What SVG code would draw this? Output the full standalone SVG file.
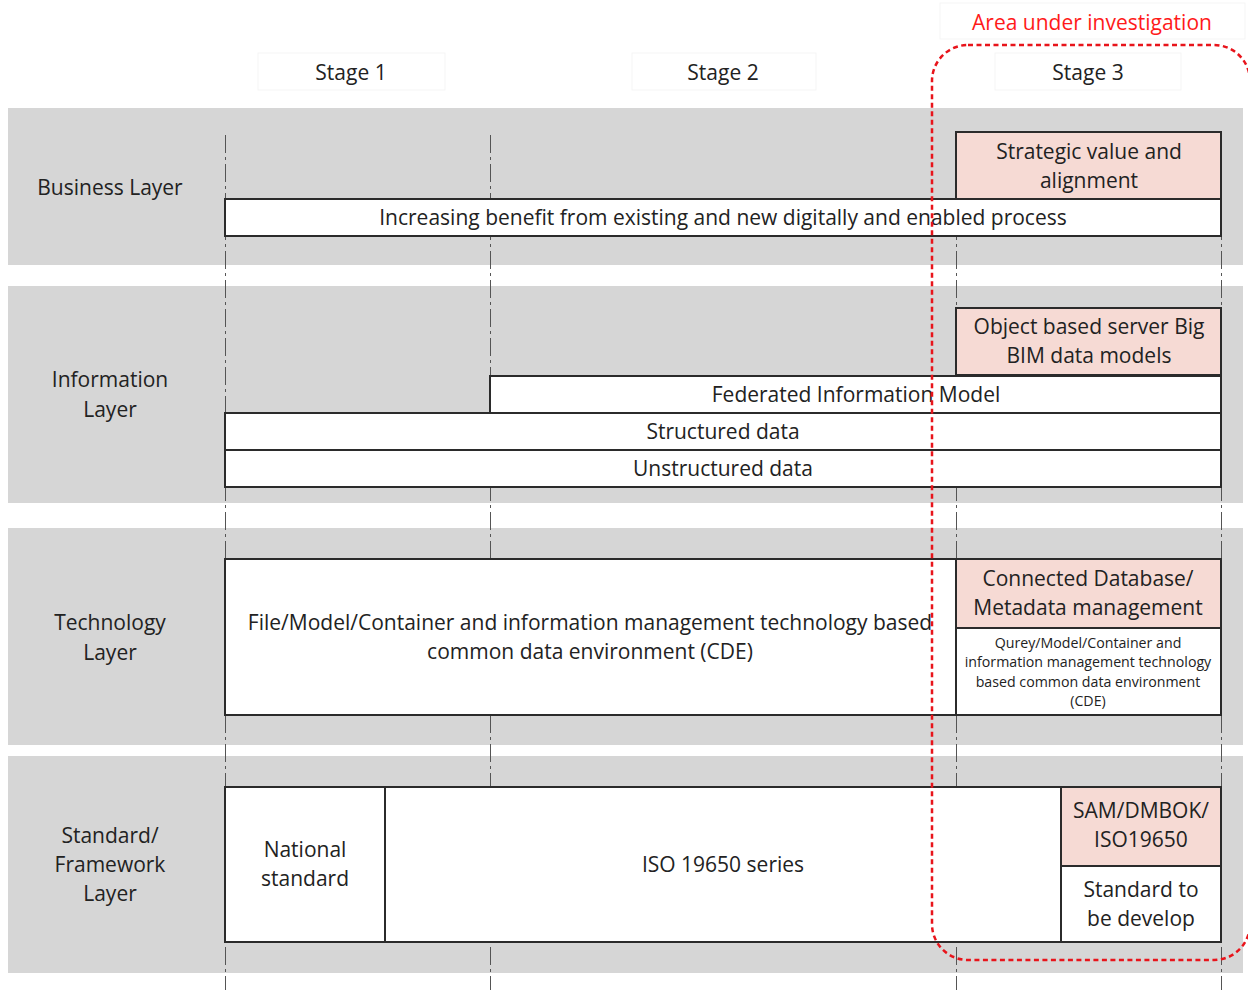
<svg xmlns="http://www.w3.org/2000/svg" width="1248" height="990" viewBox="0 0 1248 990">
  <defs>
    <style>
      .band { fill: #d6d6d6; }
      .guide { stroke: #555; stroke-width: 1; stroke-dasharray: 18 4 3 4; fill: none; }
      .box { fill: #ffffff; stroke: #2b2b2b; stroke-width: 2; }
      .hot { fill: #f6dad4; stroke: #2b2b2b; stroke-width: 2; }
      .head { fill: #ffffff; stroke: #f5f5f5; stroke-width: 1; }
      text { font-family: "Open Sans", "Liberation Sans", sans-serif; fill: #222; text-anchor: middle; }
      .t { font-size: 21px; }
      .s { font-size: 14.2px; }
      .red { fill: #ff1a1a; font-size: 21px; }
      .zone { fill: none; stroke: #e8141b; stroke-width: 2.5; stroke-dasharray: 5 3.5; }
    </style>
  </defs>

  <rect width="1248" height="990" fill="#ffffff"/>

  <!-- layer bands -->
  <g id="bands">
    <rect class="band" x="8" y="108" width="1235" height="157"/>
    <rect class="band" x="8" y="286" width="1235" height="217"/>
    <rect class="band" x="8" y="528" width="1235" height="217"/>
    <rect class="band" x="8" y="756" width="1235" height="217"/>
  </g>

  <!-- stage headers -->
  <g id="stage-1">
    <rect class="head" x="258" y="53" width="187" height="37"/>
    <text class="t" x="351" y="79.5">Stage 1</text>
  </g>
  <g id="stage-2">
    <rect class="head" x="632" y="53" width="184" height="37"/>
    <text class="t" x="723" y="79.5">Stage 2</text>
  </g>
  <g id="stage-3">
    <rect class="head" x="995" y="53" width="186" height="37"/>
    <text class="t" x="1088" y="79.5">Stage 3</text>
  </g>
  <g id="area-label">
    <rect class="head" x="940" y="3" width="305" height="36"/>
    <text class="red" x="1092" y="29.5">Area under investigation</text>
  </g>

  <!-- stage boundaries -->
  <g id="connectors">
    <line class="guide" x1="225.5" y1="135" x2="225.5" y2="990"/>
    <line class="guide" x1="490.5" y1="135" x2="490.5" y2="990"/>
    <line class="guide" x1="956.5" y1="135" x2="956.5" y2="990"/>
    <line class="guide" x1="1221.5" y1="135" x2="1221.5" y2="990"/>
  </g>

  <!-- layer names -->
  <g id="layer-business"><text class="t" x="110" y="194.5">Business Layer</text></g>
  <g id="layer-information">
    <text class="t" x="110" y="387">Information</text>
    <text class="t" x="110" y="417">Layer</text>
  </g>
  <g id="layer-technology">
    <text class="t" x="110" y="630">Technology</text>
    <text class="t" x="110" y="660">Layer</text>
  </g>
  <g id="layer-standard">
    <text class="t" x="110" y="843">Standard/</text>
    <text class="t" x="110" y="872">Framework</text>
    <text class="t" x="110" y="901">Layer</text>
  </g>

  <!-- business layer -->
  <g id="strategic-value">
    <rect class="hot" x="956" y="132" width="265" height="67"/>
    <text class="t" x="1089" y="158.5">Strategic value and</text>
    <text class="t" x="1089" y="187.5">alignment</text>
  </g>
  <g id="increasing-benefit">
    <rect class="box" x="225" y="199" width="996" height="37"/>
    <text class="t" x="723" y="225">Increasing benefit from existing and new digitally and enabled process</text>
  </g>

  <!-- information layer -->
  <g id="object-based">
    <rect class="hot" x="956" y="308" width="265" height="67"/>
    <text class="t" x="1089" y="334">Object based server Big</text>
    <text class="t" x="1089" y="363">BIM data models</text>
  </g>
  <g id="federated-model">
    <rect class="box" x="490" y="376" width="731" height="37"/>
    <text class="t" x="856" y="401.5">Federated Information Model</text>
  </g>
  <g id="structured-data">
    <rect class="box" x="225" y="413" width="996" height="37"/>
    <text class="t" x="723" y="439">Structured data</text>
  </g>
  <g id="unstructured-data">
    <rect class="box" x="225" y="450" width="996" height="37"/>
    <text class="t" x="723" y="476">Unstructured data</text>
  </g>

  <!-- technology layer -->
  <g id="file-model-cde">
    <rect class="box" x="225" y="559" width="731" height="156"/>
    <text class="t" x="590" y="630">File/Model/Container and information management technology based</text>
    <text class="t" x="590" y="659">common data environment (CDE)</text>
  </g>
  <g id="connected-database">
    <rect class="hot" x="956" y="559" width="265" height="69"/>
    <text class="t" x="1088" y="586">Connected Database/</text>
    <text class="t" x="1088" y="615">Metadata management</text>
  </g>
  <g id="query-cde">
    <rect class="box" x="956" y="628" width="265" height="87"/>
    <text class="s" x="1088" y="648">Qurey/Model/Container and</text>
    <text class="s" x="1088" y="667">information management technology</text>
    <text class="s" x="1088" y="687">based common data environment</text>
    <text class="s" x="1088" y="706">(CDE)</text>
  </g>

  <!-- standard / framework layer -->
  <g id="national-standard">
    <rect class="box" x="225" y="787" width="160" height="155"/>
    <text class="t" x="305" y="857">National</text>
    <text class="t" x="305" y="886">standard</text>
  </g>
  <g id="iso-series">
    <rect class="box" x="385" y="787" width="676" height="155"/>
    <text class="t" x="723" y="872">ISO 19650 series</text>
  </g>
  <g id="sam-dmbok">
    <rect class="hot" x="1061" y="787" width="160" height="79"/>
    <text class="t" x="1141" y="818">SAM/DMBOK/</text>
    <text class="t" x="1141" y="847">ISO19650</text>
  </g>
  <g id="standard-to-develop">
    <rect class="box" x="1061" y="866" width="160" height="76"/>
    <text class="t" x="1141" y="897">Standard to</text>
    <text class="t" x="1141" y="926">be develop</text>
  </g>

  <!-- investigated area outline -->
  <g id="investigation-area">
    <rect class="zone" x="932" y="45" width="318" height="915" rx="36" ry="36"/>
  </g>
</svg>
